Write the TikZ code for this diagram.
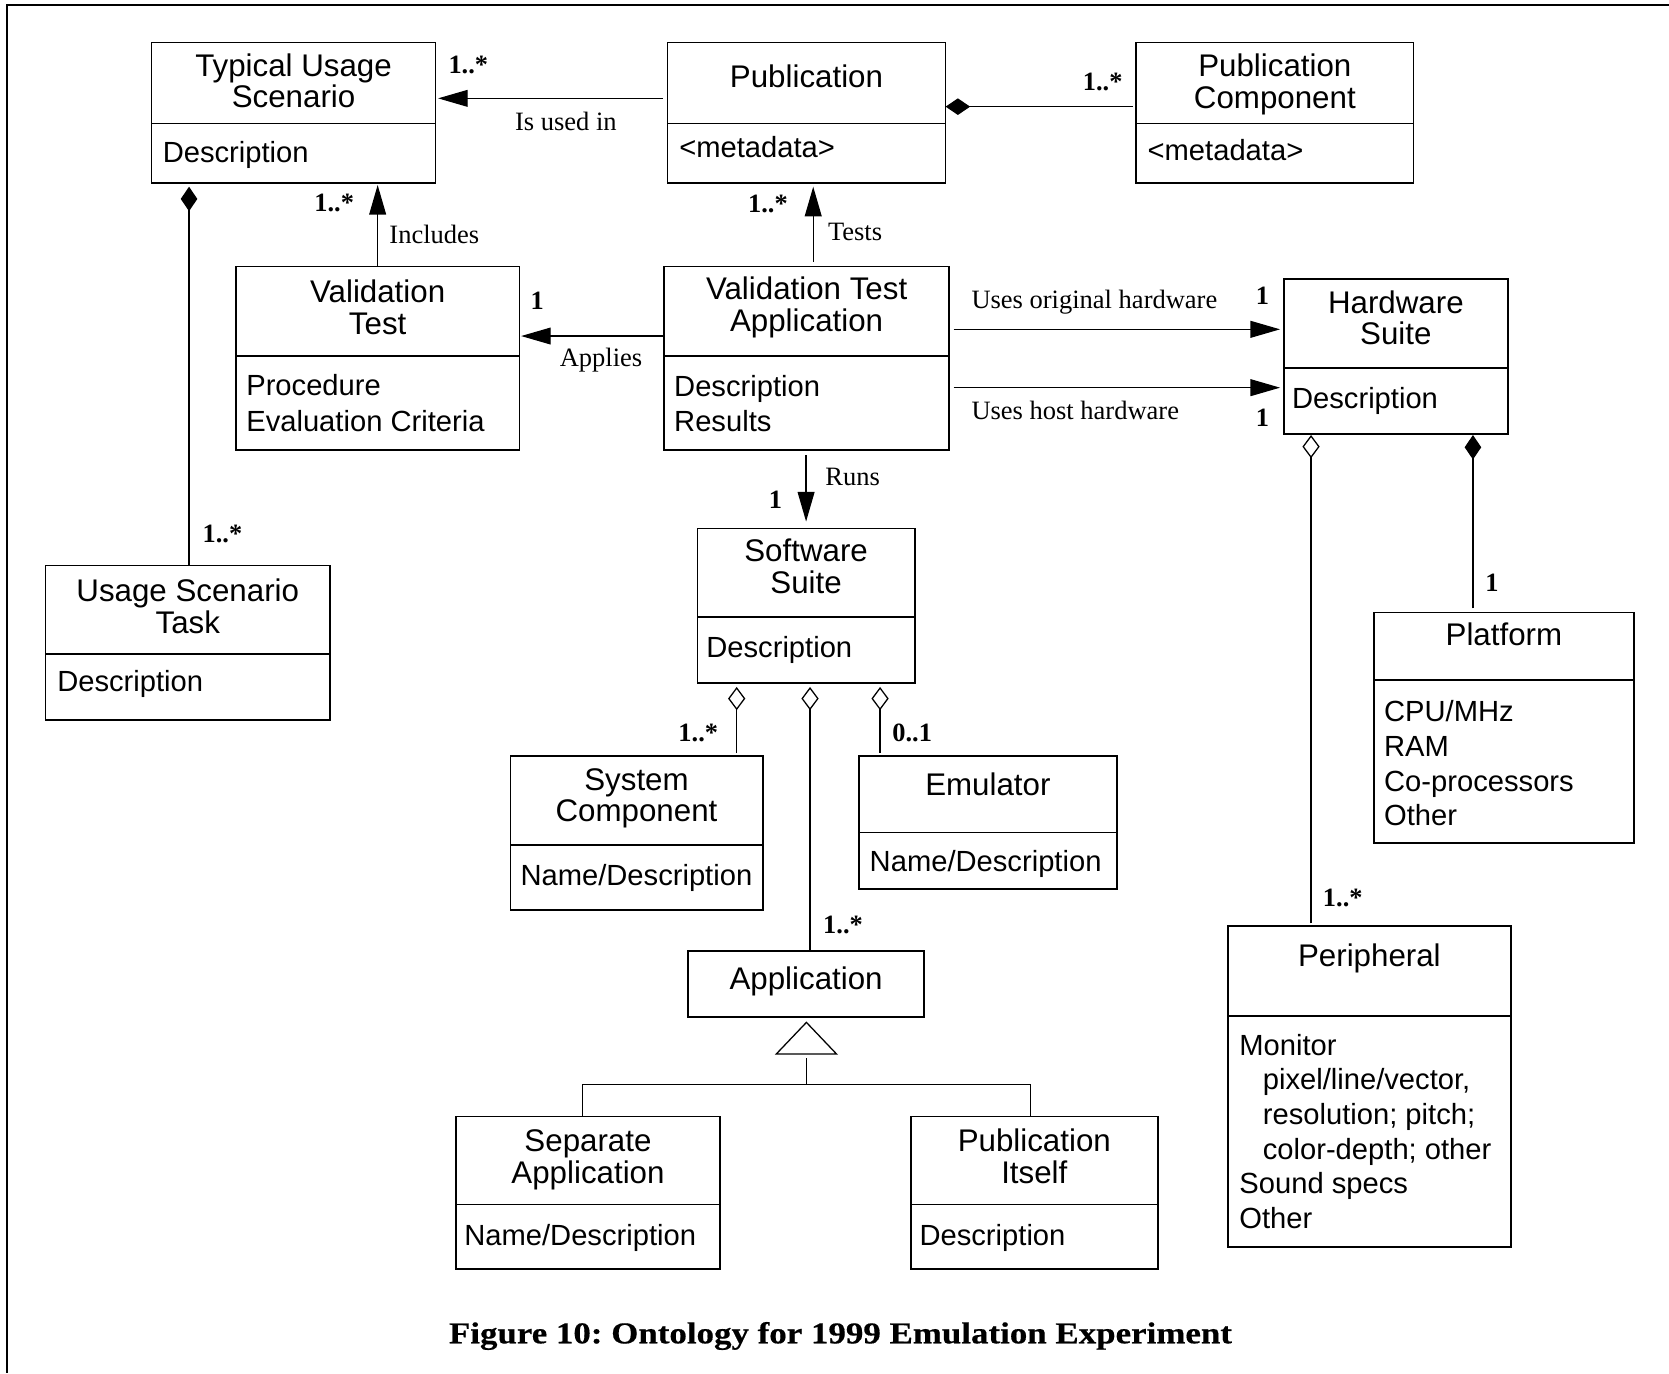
\documentclass[tikz,border=0pt]{standalone}
\usepackage{fontspec}
\usetikzlibrary{arrows.meta}
\newfontfamily\umlsans{Liberation Sans}
\newfontfamily\umlserif{Liberation Serif}
\newfontfamily\capserif[FakeStretch=1.155, FakeBold=0.5]{Liberation Serif Bold}

% stacked lines with a fixed baseline pitch; the box baseline is the first line
\newcommand\cstack[2]{\vtop{\baselineskip=#1\lineskiplimit=-\maxdimen\lineskip=0pt\let\\\cr\halign{\hfil##\hfil\cr#2\crcr}}}
\newcommand\lstack[2]{\vtop{\baselineskip=#1\lineskiplimit=-\maxdimen\lineskip=0pt\let\\\cr\halign{##\hfil\cr#2\crcr}}}

% class box: name, x1, y1, x2, y2, divider y (empty for none)
\newcommand\umlbox[6]{%
  \node[box, minimum width={(#4-#2)*0.5pt}, minimum height={(#5-#3)*0.5pt}] (#1) at ({(#2+#4)/2},{(#3+#5)/2}) {};
  \if\relax\detokenize{#6}\relax\else
    \draw[divline] (#1.west |- 0,#6) -- (#1.east |- 0,#6);
  \fi
}

\begin{document}
\frenchspacing
\begin{tikzpicture}[x=0.5pt,y=-0.5pt,
  box/.style={draw, line width=0.8pt, inner sep=0pt, outer sep=0pt},
  divline/.style={line width=0.8pt},
  ttl/.style={inner sep=0pt, anchor=base, font=\umlsans\fontsize{14.7pt}{14.85pt}\selectfont},
  att/.style={inner sep=0pt, anchor=base west, font=\umlsans\fontsize{13.7pt}{16.3pt}\selectfont},
  lbl/.style={inner sep=0pt, anchor=base west, font=\umlserif\fontsize{12.45pt}{14pt}\selectfont},
  mult/.style={inner sep=0pt, anchor=base west, font=\umlserif\bfseries\fontsize{12.4pt}{14pt}\selectfont},
  link/.style={line width=0.6pt},
  assoc/.style={link, -{Triangle[length=13.9pt,width=7.9pt]}},
  comp/.style={link, -{Diamond[length=11.5pt,width=7.8pt]}},
  agg/.style={link, -{Diamond[open,length=10.9pt,width=8.1pt]}},
]
\useasboundingbox (0,0) rectangle (1568,1290);

% page frame (top and left rules)
\draw[line width=1pt] (1568,4.7) -- (6.6,4.7) -- (6.6,1290);

% classes
\umlbox{tus}{142.4}{40}{409.1}{172.2}{116}
\umlbox{pub}{627}{40}{888.4}{172.2}{116}
\umlbox{pc}{1067.5}{40}{1327.9}{172.2}{116}
\umlbox{vt}{221.4}{250.5}{488.1}{422.8}{334.2}
\umlbox{vta}{624}{250.5}{891.5}{422.8}{334.2}
\umlbox{hs}{1206.3}{262.4}{1416.4}{407.7}{346}
\umlbox{ust}{42.8}{531.4}{310}{676.4}{614.4}
\umlbox{ss}{655.2}{496.4}{859.4}{641.4}{579.5}
\umlbox{sc}{479.5}{710}{716.6}{855}{793.9}
\umlbox{emu}{807}{710}{1049.2}{835.2}{782}
\umlbox{plat}{1290.8}{575.3}{1535}{791.7}{638.9}
\umlbox{app}{646.5}{893.5}{868.1}{955.5}{}
\umlbox{sa}{428.1}{1049}{676.7}{1192.5}{1131.5}
\umlbox{pi}{855.7}{1049}{1087.6}{1192.5}{1131.5}
\umlbox{per}{1153.5}{870}{1419.4}{1171.2}{954.2}

% class names
\node[ttl] (tus-t) at (275.8,71.4) {\cstack{14.85pt}{Typical Usage\\Scenario}};
\node[ttl] (pub-t) at (757.7,82) {Publication};
\node[ttl] (pc-t) at (1197.7,72) {\cstack{14.85pt}{Publication\\Component}};
\node[ttl] (vt-t) at (354.8,284.4) {\cstack{14.85pt}{Validation\\Test}};
\node[ttl] (vta-t) at (757.8,281.8) {\cstack{14.85pt}{Validation Test\\Application}};
\node[ttl] (hs-t) at (1311.4,294.4) {\cstack{14.85pt}{Hardware\\Suite}};
\node[ttl] (ust-t) at (176.4,565.3) {\cstack{14.85pt}{Usage Scenario\\Task}};
\node[ttl] (ss-t) at (757.3,527.2) {\cstack{15pt}{Software\\Suite}};
\node[ttl] (sc-t) at (598,742.2) {\cstack{14.85pt}{System\\Component}};
\node[ttl] (emu-t) at (928.1,747) {Emulator};
\node[ttl] (plat-t) at (1412.9,606) {Platform};
\node[ttl] (app-t) at (757.3,930) {Application};
\node[ttl] (sa-t) at (552.4,1082) {\cstack{14.85pt}{Separate\\Application}};
\node[ttl] (pi-t) at (971.7,1082) {\cstack{14.85pt}{Publication\\Itself}};
\node[ttl] (per-t) at (1286.5,908.2) {Peripheral};

% attributes
\node[att] (tus-a) at (152.5,152.4) {Description};
\node[att] (pub-a) at (637.8,148) {<metadata>};
\node[att] (pc-a) at (1077.8,151) {<metadata>};
\node[att] (vt-a) at (231,372) {\lstack{16.8pt}{Procedure\\Evaluation Criteria}};
\node[att] (vta-a) at (633,372.7) {\lstack{16.15pt}{Description\\Results}};
\node[att] (hs-a) at (1213.5,383.6) {Description};
\node[att] (ust-a) at (53.4,649.8) {Description};
\node[att] (ss-a) at (663.2,617.5) {Description};
\node[att] (sc-a) at (488.6,831.5) {Name/Description};
\node[att] (emu-a) at (816.7,819) {Name/Description};
\node[att] (plat-a) at (1300,678) {\lstack{16.3pt}{CPU/MHz\\RAM\\Co-processors\\Other}};
\node[att] (sa-a) at (435.8,1169.7) {Name/Description};
\node[att] (pi-a) at (863.5,1169.7) {Description};
\node[att] (per-a) at (1164,991.2) {\lstack{16.28pt}{Monitor\\\hskip11pt\relax pixel/line/vector,\\\hskip11pt\relax resolution; pitch;\\\hskip11pt\relax color-depth; other\\Sound specs\\Other}};

% associations
\draw[assoc, shorten <=2.25pt, shorten >=1.25pt] (pub.west |- 0,92.4) -- (tus.east |- 0,92.4);
\draw[comp, shorten <=1.5pt] (pc.west |- 0,100.2) -- (pub.east |- 0,100.2);
\draw[assoc, shorten >=0.8pt] (vt.north -| 354.8,0) -- (tus.south -| 354.8,0);
\draw[assoc, shorten <=2.35pt, shorten >=1.6pt] (vta.north -| 764,0) -- (pub.south -| 764,0);
\draw[assoc, shorten >=0.75pt] (vta.west |- 0,315.7) -- (vt.east |- 0,315.7);
\draw[assoc, shorten <=2.25pt, shorten >=1.85pt] (vta.east |- 0,309.4) -- (hs.west |- 0,309.4);
\draw[assoc, shorten <=2.25pt, shorten >=1.85pt] (vta.east |- 0,364.2) -- (hs.west |- 0,364.2);
\draw[assoc, shorten <=2.35pt, shorten >=3.2pt] (vta.south -| 757.3,0) -- (ss.north -| 757.3,0);

% whole/part links
\draw[comp, shorten >=1.6pt] (ust.north -| 177.6,0) -- (tus.south -| 177.6,0);
\draw[agg, shorten <=1.25pt, shorten >=0.5pt] (per.north -| 1231.7,0) -- (hs.south -| 1231.7,0);
\draw[comp, shorten <=1.9pt, shorten >=0.5pt] (plat.north -| 1383.8,0) -- (hs.south -| 1383.8,0);
\draw[agg, shorten <=1.25pt, shorten >=2pt] (sc.north -| 692.1,0) -- (ss.south -| 692.1,0);
\draw[agg, shorten >=2pt] (app.north -| 761,0) -- (ss.south -| 761,0);
\draw[agg, shorten <=1.5pt, shorten >=2pt] (emu.north -| 826.8,0) -- (ss.south -| 826.8,0);

% generalization
\coordinate (gen) at (757.6,1018.7);
\draw[link] (sa.north -| 547.3,0) |- (gen) -| (pi.north -| 967.9,0);
\draw[link] (gen) -- (gen |- 0,993.7);
\draw[link] (app.south) ++(0.3,5) -- ++(-28.3,29.7) -- ++(56.6,0) -- cycle;

% multiplicities and role labels
\node[mult] (m1) at (421,69.5) {1..*};
\node[lbl] (l1) at (483.5,123) {Is used in};
\node[mult] (m2) at (1017,85.2) {1..*};
\node[mult] (m3) at (295,199) {1..*};
\node[lbl] (l2) at (365.5,228.5) {Includes};
\node[mult] (m4) at (702.5,200) {1..*};
\node[lbl] (l3) at (777.5,226) {Tests};
\node[mult] (m5) at (498,290.5) {1};
\node[lbl] (l4) at (525.5,344.5) {Applies};
\node[lbl] (l5) at (912.3,289.7) {Uses original hardware};
\node[mult] (m6) at (1179.5,286.5) {1};
\node[lbl] (l6) at (912.3,394) {Uses host hardware};
\node[mult] (m7) at (1179.5,400.9) {1};
\node[lbl] (l7) at (775,455.7) {Runs};
\node[mult] (m8) at (722,477.6) {1};
\node[mult] (m9) at (190,509.8) {1..*};
\node[mult] (m10) at (1395,555.9) {1};
\node[mult] (m11) at (637,696.8) {1..*};
\node[mult] (m12) at (838,696.8) {0..1};
\node[mult] (m13) at (773,876.9) {1..*};
\node[mult] (m14) at (1242.5,851.8) {1..*};

% caption
\node[inner sep=0pt, anchor=base, font=\capserif\fontsize{14.2pt}{16pt}\selectfont] (cap) at (789.6,1262) {Figure 10: Ontology for 1999 Emulation Experiment};
\end{tikzpicture}
\end{document}
